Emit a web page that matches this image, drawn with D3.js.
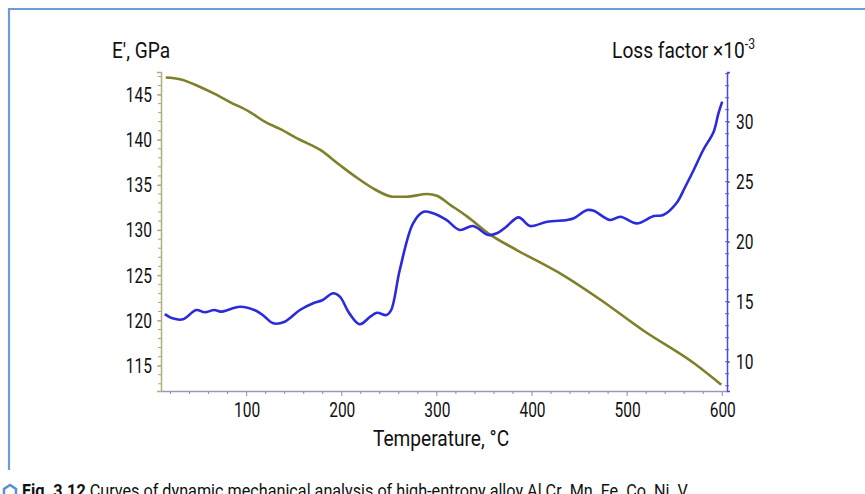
<!DOCTYPE html>
<html><head><meta charset="utf-8">
<script src="https://cdn.jsdelivr.net/npm/d3@7"></script>
<style>
html,body{margin:0;padding:0;background:#fff;overflow:hidden}
svg text{font-family:"Roboto","Noto Sans",sans-serif;fill:#111}
</style></head>
<body><svg id="c" width="865" height="494"></svg>
<script>
// Temperature (°C) and storage modulus E' (GPa)
const tempE = [15,30,50,66,82,103,119,135,156,177,198,216,235,254,268,290,300,314,332,356,384,433,472,517,570,599];
const modulusE = [146.9,146.7,145.9,145.1,144.2,143.1,142.0,141.2,140.0,138.9,137.2,135.8,134.5,133.7,133.7,134.0,133.8,132.8,131.5,129.5,127.8,125.0,122.3,118.9,115.3,112.9];
// Temperature (°C) and loss factor (x10^-3)
const tempL = [14,22,33,47,56,66,73,93,110,119,128,140,156,170,180,191,198,208,219,230,237,247,252,261,275,286,296,310,324,338,354,363,373,386,398,416,437,444,458,465,482,493,510,528,538,552,561,570,580,591,596,600];
const lossF = [13.97,13.62,13.53,14.31,14.12,14.31,14.17,14.58,14.25,13.75,13.2,13.33,14.31,14.87,15.14,15.7,15.42,14.03,13.12,13.75,14.08,13.89,14.31,17.64,21.53,22.5,22.37,21.81,20.98,21.31,20.56,20.7,21.25,22.03,21.31,21.67,21.81,21.95,22.64,22.58,21.81,22.08,21.53,22.14,22.22,23.22,24.56,25.97,27.64,29.17,30.7,31.67];
const xTicks = [100,200,300,400,500,600];
const yLTicks = [115,120,125,130,135,140,145];
const yRTicks = [10,15,20,25,30];

const svg = d3.select("#c");
const x = d3.scaleLinear().domain([10,605]).range([161,727]);
const yL = d3.scaleLinear().domain([112.2,147.5]).range([391,72]);
const yR = d3.scaleLinear().domain([7.56,34.14]).range([391,72]);

// condense a text horizontally around its anchor x
function condense(sel, sx){
  sel.each(function(){
    const t = d3.select(this);
    const x0 = +(t.attr("x") || 0);
    const base = t.attr("transform") || "";
    t.attr("transform", base + ` translate(${x0*(1-sx)},0) scale(${sx},1)`);
  });
}

// frame
svg.append("path").attr("d","M9,470V9H865").attr("fill","none").attr("stroke","#6d9cda").attr("stroke-width",2.2);

// minor ticks
const minorX = d3.range(20,601,20);
svg.append("g").selectAll("line").data(minorX).join("line")
  .attr("x1",d=>x(d)).attr("x2",d=>x(d)).attr("y1",391).attr("y2",d=>d%100===0?396:394)
  .attr("stroke","#8a8aa8").attr("stroke-width",1);
svg.append("g").selectAll("line").data(d3.range(113,148)).join("line")
  .attr("x1",158).attr("x2",161).attr("y1",d=>yL(d)).attr("y2",d=>yL(d))
  .attr("stroke","#a8a870").attr("stroke-width",1);
svg.append("g").selectAll("line").data(d3.range(8,35)).join("line")
  .attr("x1",725).attr("x2",729).attr("y1",d=>yR(d)).attr("y2",d=>yR(d))
  .attr("stroke","#5a5ae0").attr("stroke-width",1);

// axes
const gx = svg.append("g").attr("transform","translate(0,391)")
  .call(d3.axisBottom(x).tickValues(xTicks).tickSize(0).tickPadding(11));
gx.select(".domain").attr("stroke","#9a9ab8").attr("stroke-width",1.5);
const gl = svg.append("g").attr("transform","translate(161,0)")
  .call(d3.axisLeft(yL).tickValues(yLTicks).tickSize(4).tickPadding(5));
gl.select(".domain").attr("stroke","#b0b078").attr("stroke-width",1.5);
gl.selectAll(".tick line").attr("stroke","#a8a870");
const gr = svg.append("g").attr("transform","translate(727,0)")
  .call(d3.axisRight(yR).tickValues(yRTicks).tickSize(3).tickPadding(6));
gr.select(".domain").attr("stroke","#4a4ae0").attr("stroke-width",1.5);
gr.selectAll(".tick line").attr("stroke","#4a4ae0");
const tickTexts = svg.selectAll(".tick text").attr("font-size",21).attr("fill","#111")
  .attr("font-family","Roboto, sans-serif");
condense(tickTexts, 0.74);

// lines
const lineE = d3.line().x(d=>x(d[0])).y(d=>yL(d[1])).curve(d3.curveMonotoneX);
const lineL = d3.line().x(d=>x(d[0])).y(d=>yR(d[1])).curve(d3.curveCatmullRom.alpha(0.5));
svg.append("path").attr("d",lineE(d3.zip(tempE,modulusE))).attr("fill","none")
  .attr("stroke","#80802a").attr("stroke-width",2.6).attr("stroke-linejoin","round");
svg.append("path").attr("d",lineL(d3.zip(tempL,lossF))).attr("fill","none")
  .attr("stroke","#2b2bdc").attr("stroke-width",2.6).attr("stroke-linejoin","round");

// titles
const titles = [];
titles.push(svg.append("text").attr("x",112).attr("y",58).attr("font-size",22).text("E′, GPa"));
const t2 = svg.append("text").attr("x",755).attr("y",58).attr("font-size",22).attr("text-anchor","end");
t2.append("tspan").text("Loss factor ×10");
t2.append("tspan").attr("font-size",14).attr("dy",-9).text("-3");
titles.push(t2);
titles.push(svg.append("text").attr("x",441).attr("y",446).attr("font-size",22).attr("text-anchor","middle").text("Temperature, °C"));
titles.forEach(t=>condense(t,0.87));

// caption (cut off at bottom, as in the source)
svg.append("path").attr("d","M4,499V489L10,485L16,489V499").attr("fill","none").attr("stroke","#5b8fd6").attr("stroke-width",2.5);
const cap = svg.append("text").attr("x",22).attr("y",497).attr("font-size",18).attr("xml:space","preserve");
cap.append("tspan").attr("font-weight","bold").text("Fig. 3.12");
cap.append("tspan").text(" Curves of dynamic mechanical analysis of high-entropy alloy Al Cr  Mn  Fe  Co  Ni  V");
condense(cap, 0.9);
</script></body></html>
